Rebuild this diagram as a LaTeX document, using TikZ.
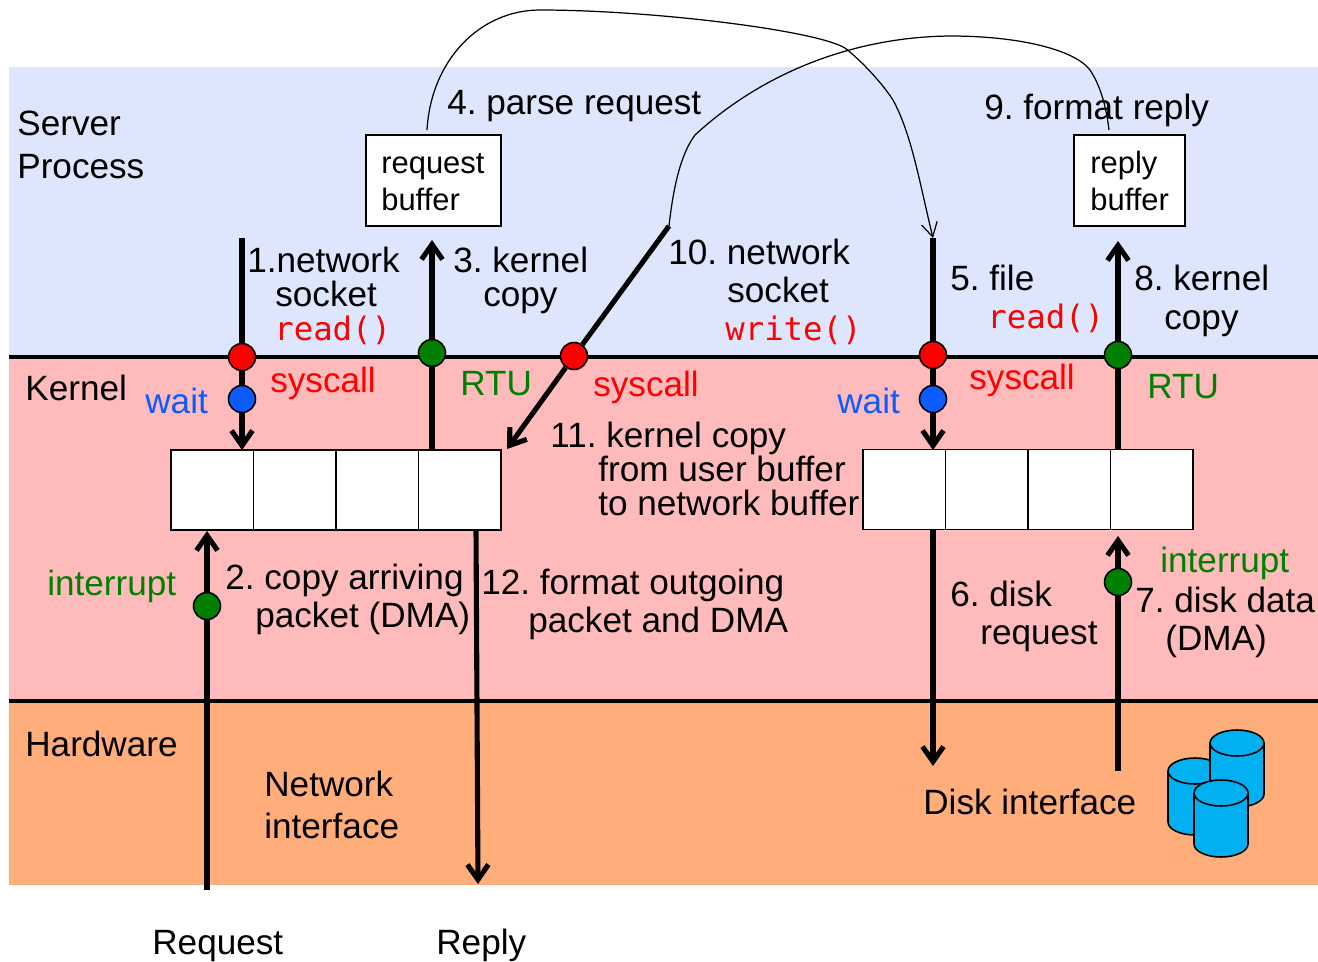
\documentclass[tikz,border=0pt]{standalone}
\usepackage{fontspec}
\setmainfont{Liberation Sans}
\setmonofont{DejaVu Sans Mono}
\usetikzlibrary{arrows.meta}
\definecolor{userblue}{HTML}{DDE6FD}
\definecolor{kernelpink}{HTML}{FFBBBB}
\definecolor{hwred}{HTML}{FFAD7A}
\definecolor{diskblue}{HTML}{00B0F0}
\definecolor{waitblue}{HTML}{0B5BFF}
\definecolor{rtugreen}{HTML}{008000}
\frenchspacing
\newcommand{\diskcan}[2]{
\filldraw [fill=diskblue,draw=black,line width=0.9pt] (#1-27,#2) -- (#1-27,#2+51) arc (180:0:27 and 13) -- (#1+27,#2) arc (0:-180:27 and 13) -- cycle;
\draw [black,line width=0.9pt] (#1-27,#2+51) arc (180:360:27 and 13);
}
\tikzset{
lab/.style={anchor=base west,inner sep=0pt,xshift=-0.02cm,yshift=-0.02cm,align=left,font=\fontsize{20}{#1}\selectfont},
lab/.default=24,
code/.style={text=red,anchor=base west,inner sep=0pt,font=\fontsize{18.4}{22}\ttfamily},
dot/.style={circle,draw=black,line width=0.9pt,minimum size=0.54cm,inner sep=0pt},
cell/.style={draw=black,fill=white,line width=1pt,minimum width=1.65cm,minimum height=1.6cm,inner sep=0pt},
bufbox/.style={draw=black,fill=white,line width=1.2pt,inner sep=0pt,outer sep=0pt,anchor=north west},
heavy/.style={black,line width=2.9pt},
border/.style={black,line width=2.4pt},
thin/.style={black,line width=0.7pt},
barb/.style={-{Straight Barb[length=0.3cm,width=0.42cm]}}
}
\begin{document}
\begin{tikzpicture}[x=0.02cm,y=0.02cm]
\useasboundingbox (0,0) rectangle (1318,-961);
\fill [userblue] (9,-67) rectangle (1318,-357);
\fill [kernelpink] (9,-357) rectangle (1318,-701);
\fill [hwred] (9,-701) rectangle (1318,-885);
\draw [border] (9,-357) -- (1318,-357);
\draw [border] (9,-701) -- (1318,-701);

\node [lab] (server) at (18,-177) {Server\\Process};
\node [lab] (kernel) at (26,-399) {Kernel};
\node [lab] (hardware) at (26,-755) {Hardware};
\node [lab=23.5] (netif) at (265,-837) {Network\\interface};
\node [lab] (diskif) at (924,-813) {Disk interface};
\node [lab] (request) at (153,-953) {Request};
\node [lab] (reply) at (437,-953) {Reply};

\node [bufbox,minimum width=2.7cm,minimum height=1.82cm] (reqbuf) at (366,-135) {};
\node [lab,font=\fontsize{17.6}{21}\selectfont] (reqtext) at (382,-209) {request\\buffer};
\node [bufbox,minimum width=2.22cm,minimum height=1.82cm] (repbuf) at (1074,-135) {};
\node [lab,font=\fontsize{17.6}{21}\selectfont] (reptext) at (1091,-209) {reply\\buffer};

\foreach \i/\x in {1/212.25,2/294.75,3/377.25,4/459.75}
\node [cell] (lbuf\i) at (\x,-490) {};
\foreach \i/\x in {1/904.25,2/986.75,3/1069.25,4/1151.75}
\node [cell] (rbuf\i) at (\x,-489.5) {};

\node [dot,fill=red] (read1) at (242,-357) {};
\node [dot,fill=waitblue] (wait1) at (242,-399) {};
\node [dot,fill=rtugreen] (rtu1) at (432,-353) {};
\node [dot,fill=red] (write1) at (574,-356) {};
\node [dot,fill=red] (read2) at (933,-355) {};
\node [dot,fill=waitblue] (wait2) at (933,-399) {};
\node [dot,fill=rtugreen] (rtu2) at (1118,-355) {};
\node [dot,fill=rtugreen] (irq1) at (207,-606) {};
\node [dot,fill=rtugreen] (irq2) at (1118,-582) {};

\coordinate (read1top) at (242,-238);
\coordinate (wait1end) at (242,-450);
\coordinate (rtu1base) at (432,-450);
\coordinate (rtu1end) at (432,-240);
\coordinate (write1top) at (669,-226);
\coordinate (write1end) at (507,-449);
\coordinate (read2top) at (933,-238);
\coordinate (wait2end) at (933,-450);
\coordinate (rtu2base) at (1118,-450);
\coordinate (rtu2end) at (1118,-241);
\coordinate (irq1base) at (207,-890);
\coordinate (irq1end) at (207,-531);
\coordinate (outstart) at (476,-530);
\coordinate (outend) at (478,-884);
\coordinate (diskstart) at (933,-530);
\coordinate (diskend) at (933,-766);
\coordinate (irq2base) at (1118,-771);
\coordinate (irq2end) at (1118,-536);
\coordinate (reqtop) at (427,-130);
\coordinate (reptop) at (1109,-130);

\draw [heavy] (read1top) -- (read1);
\draw [heavy] (read1) -- (wait1);
\draw [heavy,barb] (wait1) -- (wait1end);
\draw [heavy] (rtu1base) -- (rtu1);
\draw [heavy,barb] (rtu1) -- (rtu1end);
\draw [heavy] (write1top) -- (write1);
\draw [heavy,barb] (write1) -- (write1end);
\draw [heavy] (read2top) -- (read2);
\draw [heavy] (read2) -- (wait2);
\draw [heavy,barb] (wait2) -- (wait2end);
\draw [heavy] (rtu2base) -- (rtu2);
\draw [heavy,barb] (rtu2) -- (rtu2end);
\draw [heavy] (irq1base) -- (irq1);
\draw [heavy,barb] (irq1) -- (irq1end);
\draw [heavy,barb] (outstart) -- (outend);
\draw [heavy,barb] (diskstart) -- (diskend);
\draw [heavy] (irq2base) -- (irq2);
\draw [heavy,barb] (irq2) -- (irq2end);

\draw [thin,-{Straight Barb[length=0.28cm,width=0.32cm]}] (reqtop) .. controls (431,-60) and (480,-10) .. (540,-10) .. controls (650,-10) and (815,-30) .. (845,-48) .. controls (858,-58) and (880,-80) .. (893,-100) .. controls (912,-135) and (920,-185) .. (read2top);
\draw [thin] (write1top) .. controls (673,-190) and (680,-155) .. (695,-135) .. controls (760,-75) and (850,-37) .. (950,-36) .. controls (1020,-36) and (1075,-50) .. (1090,-70) .. controls (1100,-85) and (1106,-105) .. (reptop);

\node [lab] (parse) at (448,-113) {4. parse request};
\node [lab] (format) at (985,-118) {9. format reply};
\node [lab=19.3] (step1) at (248,-305) {1.network\\\hspace*{0.56cm}socket};
\node [code] (read1text) at (274,-340) {read()};
\node [lab=18.8] (step3) at (454,-305) {3. kernel\\\hspace*{0.6cm}copy};
\node [lab=21.6] (step10) at (669,-301) {10. network\\\hspace*{1.18cm}socket};
\node [code] (write1text) at (725,-340) {write()};
\node [lab] (step5) at (951,-289) {5. file};
\node [code] (read2text) at (987,-328) {read()};
\node [lab=22] (step8) at (1135,-328) {8. kernel\\\hspace*{0.6cm}copy};
\node [lab=19.3] (step11) at (551,-514) {11. kernel copy\\\hspace*{0.96cm}from user buffer\\\hspace*{0.96cm}to network buffer};
\node [lab=21.6] (step2) at (226,-626) {2. copy arriving\\\hspace*{0.6cm}packet (DMA)};
\node [lab=21.6] (step12) at (482,-631) {12. format outgoing\\\hspace*{0.94cm}packet and DMA};
\node [lab=21.6] (step6) at (951,-643) {6. disk\\\hspace*{0.6cm}request};
\node [lab=21.6] (step7) at (1136,-649) {7. disk data\\\hspace*{0.6cm}(DMA)};

\node [lab,text=red] (sys1) at (271,-391) {syscall};
\node [lab,text=red] (sys2) at (594,-395) {syscall};
\node [lab,text=red] (sys3) at (970,-388) {syscall};
\node [lab,text=rtugreen] (rtu1text) at (461,-394) {RTU};
\node [lab,text=rtugreen] (rtu2text) at (1148,-397) {RTU};
\node [lab,text=waitblue] (wait1text) at (146,-412) {wait};
\node [lab,text=waitblue] (wait2text) at (838,-412) {wait};
\node [lab,text=rtugreen] (irq1text) at (48,-594) {interrupt};
\node [lab,text=rtugreen] (irq2text) at (1161,-571) {interrupt};

\diskcan{1195}{-822}
\diskcan{1237}{-794}
\diskcan{1221}{-844}
\end{tikzpicture}
\end{document}
